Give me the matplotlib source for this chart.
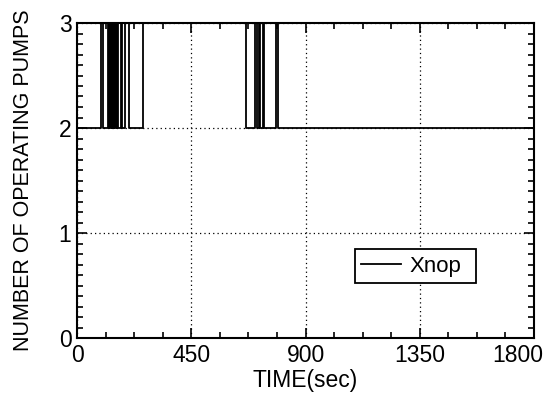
import matplotlib
matplotlib.use("Agg")
import matplotlib.pyplot as plt
import matplotlib.transforms as mtransforms
from matplotlib.ticker import MultipleLocator, FixedLocator

plt.rcParams['font.family'] = ['Liberation Sans', 'DejaVu Sans']

# Pump switching events: time (sec) at which the pump count changes, and the new count
switch_times = [0, 93, 101,
                121, 124, 127, 130, 133, 137, 140, 143, 146, 150, 153, 156, 159, 161,
                174, 177, 188, 205, 260,
                665, 702, 709, 715, 722, 731, 737, 783, 790,
                1800]
pump_counts = [2, 3, 2,
               3, 2, 3, 2, 3, 2, 3, 2, 3, 2, 3, 2, 3, 2,
               3, 2, 3, 2, 3,
               2, 3, 2, 3, 2, 3, 2, 3, 2,
               2]

x_ticks = [0, 450, 900, 1350, 1800]
y_ticks = [0, 1, 2, 3]
series_label = "Xnop"

fig = plt.figure(figsize=(5.47, 4.0), dpi=100)
ax = fig.add_axes([0.1408, 0.155, 0.8355, 0.7875])

ax.plot(switch_times, pump_counts, drawstyle='steps-post', color='black',
        lw=1.3, label=series_label, clip_on=False, zorder=3)

ax.set_xlim(0, 1800)
ax.set_ylim(0, 3)
ax.xaxis.set_major_locator(FixedLocator(x_ticks))
ax.yaxis.set_major_locator(FixedLocator(y_ticks))
ax.xaxis.set_minor_locator(MultipleLocator(112.5))
ax.yaxis.set_minor_locator(MultipleLocator(0.1))
ax.set_xticklabels([str(v) for v in x_ticks])
ax.set_yticklabels([str(v) for v in y_ticks])

ax.tick_params(which='both', direction='in', top=True, right=True,
               labelsize=16.5, width=1.2, color='black', pad=4)
ax.tick_params(which='major', length=7)
ax.tick_params(which='minor', length=4)

# keep the last time label inside the figure edge
last_lbl = ax.get_xticklabels()[-1]
last_lbl.set_transform(last_lbl.get_transform() +
                       mtransforms.ScaledTranslation(-0.16, 0, fig.dpi_scale_trans))

for s in ax.spines.values():
    s.set_linewidth(1.5)

ax.grid(True, which='major', color='black', lw=0.9, linestyle=(0, (1, 2.5)))

ax.set_xlabel("TIME(sec)", fontsize=16.5, labelpad=2)
ax.set_ylabel("NUMBER OF OPERATING PUMPS", fontsize=15.5, labelpad=18)

leg = ax.legend(loc='lower left', bbox_to_anchor=(0.608, 0.175, 0.266, 0.111),
                mode='expand', borderaxespad=0, fancybox=False, framealpha=1,
                edgecolor='black', fontsize=16, handlelength=1.8,
                handletextpad=0.4, borderpad=0.28)
leg.get_frame().set_linewidth(1.3)

fig.savefig("out.png", dpi=100)
